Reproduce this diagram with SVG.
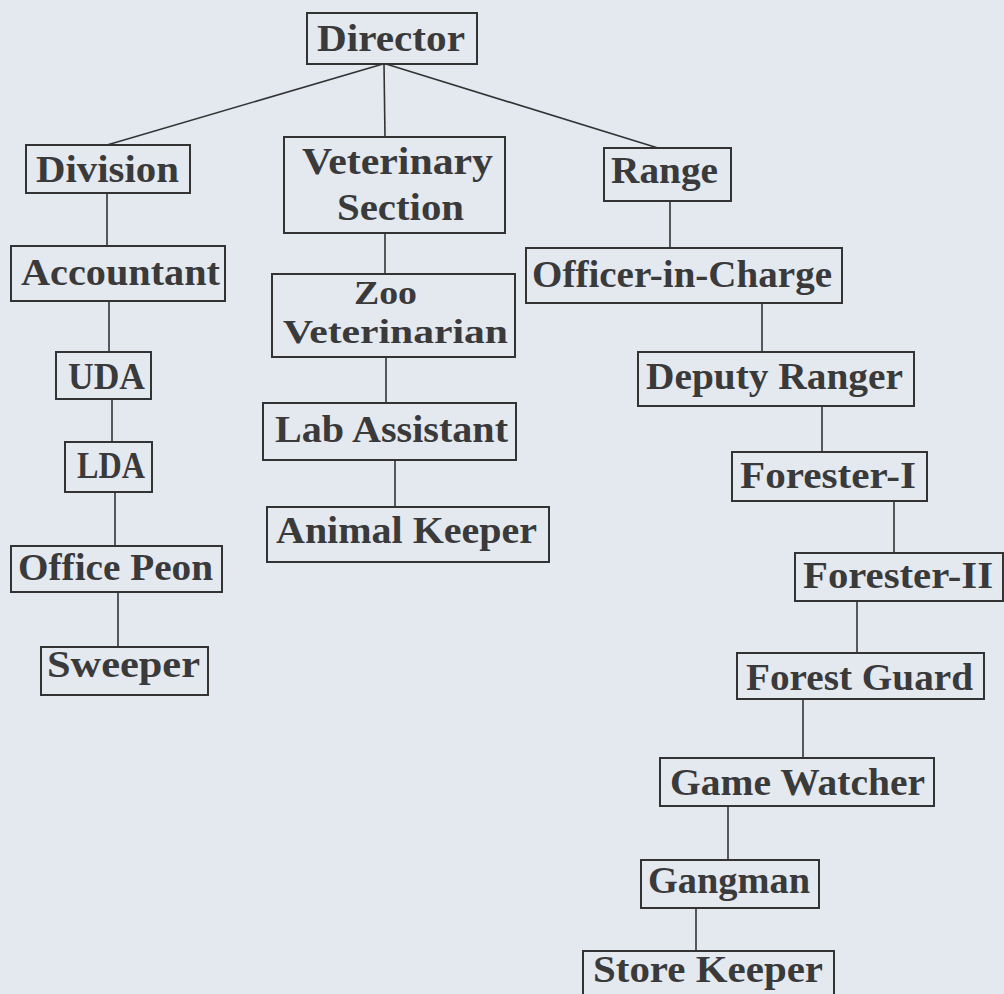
<svg xmlns="http://www.w3.org/2000/svg" width="1004" height="994" viewBox="0 0 1004 994">
<style>
.bg{fill:#e4e8ef}
.box{fill:none;stroke:#333;stroke-width:2}
.lbl{font-family:"Liberation Serif","DejaVu Serif",serif;font-weight:bold;font-size:38px;fill:#3a3a3a}
.sm{font-size:33px}
.con{stroke:#333;stroke-width:1.6;fill:none}
</style>
<rect class="bg" x="0" y="0" width="1004" height="994"/>
<g id="connectors">
<line class="con" x1="383" y1="64" x2="107" y2="145"/>
<line class="con" x1="384" y1="64" x2="385" y2="137"/>
<line class="con" x1="386" y1="64" x2="658" y2="148"/>
<line class="con" x1="107" y1="193" x2="107" y2="246"/>
<line class="con" x1="109" y1="301" x2="109" y2="352"/>
<line class="con" x1="112" y1="399" x2="112" y2="442"/>
<line class="con" x1="115" y1="492" x2="115" y2="546"/>
<line class="con" x1="118" y1="592" x2="118" y2="647"/>
<line class="con" x1="385" y1="233" x2="385" y2="274"/>
<line class="con" x1="386" y1="357" x2="386" y2="403"/>
<line class="con" x1="395" y1="460" x2="395" y2="507"/>
<line class="con" x1="670" y1="201" x2="670" y2="248"/>
<line class="con" x1="762" y1="303" x2="762" y2="352"/>
<line class="con" x1="822" y1="406" x2="822" y2="452"/>
<line class="con" x1="894" y1="501" x2="894" y2="553"/>
<line class="con" x1="857" y1="601" x2="857" y2="653"/>
<line class="con" x1="803" y1="699" x2="803" y2="758"/>
<line class="con" x1="728" y1="806" x2="728" y2="860"/>
<line class="con" x1="696" y1="908" x2="696" y2="951"/>
</g>
<g id="director"><rect class="box" x="307" y="13" width="170" height="51"/><text class="lbl" x="317" y="51" textLength="148" lengthAdjust="spacingAndGlyphs">Director</text></g>
<g id="division"><rect class="box" x="26" y="145" width="164" height="48"/><text class="lbl" x="36" y="182" textLength="143" lengthAdjust="spacingAndGlyphs">Division</text></g>
<g id="veterinary-section"><rect class="box" x="284" y="137" width="221" height="96"/><text class="lbl" x="302" y="174" textLength="191" lengthAdjust="spacingAndGlyphs">Veterinary</text><text class="lbl" x="337" y="220" textLength="127" lengthAdjust="spacingAndGlyphs">Section</text></g>
<g id="range"><rect class="box" x="604" y="148" width="127" height="53"/><text class="lbl" x="611" y="183" textLength="107" lengthAdjust="spacingAndGlyphs">Range</text></g>
<g id="accountant"><rect class="box" x="11" y="246" width="214" height="55"/><text class="lbl" x="21" y="285" textLength="199" lengthAdjust="spacingAndGlyphs">Accountant</text></g>
<g id="uda"><rect class="box" x="56" y="352" width="95" height="47"/><text class="lbl" x="68" y="389" textLength="77" lengthAdjust="spacingAndGlyphs">UDA</text></g>
<g id="lda"><rect class="box" x="65" y="442" width="87" height="50"/><text class="lbl" x="77" y="478" textLength="68" lengthAdjust="spacingAndGlyphs">LDA</text></g>
<g id="office-peon"><rect class="box" x="11" y="546" width="211" height="46"/><text class="lbl" x="18" y="580" textLength="195" lengthAdjust="spacingAndGlyphs">Office Peon</text></g>
<g id="sweeper"><rect class="box" x="41" y="647" width="167" height="48"/><text class="lbl" x="47" y="677" textLength="153" lengthAdjust="spacingAndGlyphs">Sweeper</text></g>
<g id="zoo-veterinarian"><rect class="box" x="272" y="274" width="243" height="83"/><text class="lbl sm" x="354" y="304" textLength="63" lengthAdjust="spacingAndGlyphs">Zoo</text><text class="lbl sm" x="283" y="343" textLength="225" lengthAdjust="spacingAndGlyphs">Veterinarian</text></g>
<g id="lab-assistant"><rect class="box" x="263" y="403" width="253" height="57"/><text class="lbl" x="275" y="442" textLength="233" lengthAdjust="spacingAndGlyphs">Lab Assistant</text></g>
<g id="animal-keeper"><rect class="box" x="267" y="507" width="282" height="55"/><text class="lbl" x="276" y="543" textLength="261" lengthAdjust="spacingAndGlyphs">Animal Keeper</text></g>
<g id="officer-in-charge"><rect class="box" x="526" y="248" width="316" height="55"/><text class="lbl" x="532" y="287" textLength="300" lengthAdjust="spacingAndGlyphs">Officer-in-Charge</text></g>
<g id="deputy-ranger"><rect class="box" x="638" y="352" width="276" height="54"/><text class="lbl" x="646" y="389" textLength="257" lengthAdjust="spacingAndGlyphs">Deputy Ranger</text></g>
<g id="forester-i"><rect class="box" x="732" y="452" width="195" height="49"/><text class="lbl" x="740" y="488" textLength="176" lengthAdjust="spacingAndGlyphs">Forester-I</text></g>
<g id="forester-ii"><rect class="box" x="795" y="553" width="208" height="48"/><text class="lbl" x="803" y="588" textLength="190" lengthAdjust="spacingAndGlyphs">Forester-II</text></g>
<g id="forest-guard"><rect class="box" x="737" y="653" width="247" height="46"/><text class="lbl" x="746" y="690" textLength="227" lengthAdjust="spacingAndGlyphs">Forest Guard</text></g>
<g id="game-watcher"><rect class="box" x="660" y="758" width="274" height="48"/><text class="lbl" x="670" y="795" textLength="255" lengthAdjust="spacingAndGlyphs">Game Watcher</text></g>
<g id="gangman"><rect class="box" x="641" y="860" width="178" height="48"/><text class="lbl" x="648" y="893" textLength="162" lengthAdjust="spacingAndGlyphs">Gangman</text></g>
<g id="store-keeper"><rect class="box" x="583" y="951" width="251" height="50"/><text class="lbl" x="593" y="982" textLength="230" lengthAdjust="spacingAndGlyphs">Store Keeper</text></g>
</svg>
